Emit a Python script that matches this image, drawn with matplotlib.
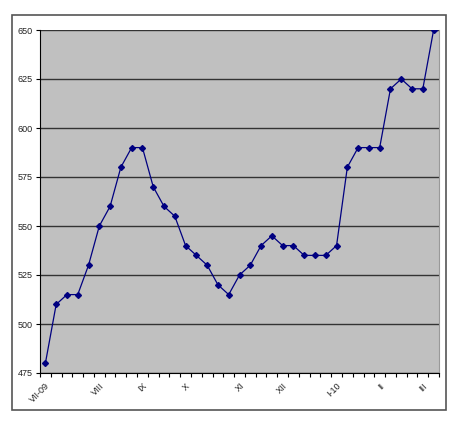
import matplotlib
matplotlib.use("Agg")
import matplotlib.pyplot as plt
from matplotlib.patches import Rectangle

plt.rcParams['font.family'] = ['Liberation Sans', 'DejaVu Sans']

values = [480, 510, 515, 515, 530, 550, 560, 580, 590, 590, 570, 560, 555,
          540, 535, 530, 520, 515, 525, 530, 540, 545, 540, 540, 535, 535,
          535, 540, 580, 590, 590, 590, 620, 625, 620, 620, 650]
month_pos = [0, 5, 9, 13, 18, 22, 27, 31, 35]
month_labels = ['VII-09', 'VIII', 'IX', 'X', 'XI', 'XII', 'I-10', 'II', 'III']
y_ticks = [475, 500, 525, 550, 575, 600, 625, 650]

fig = plt.figure(figsize=(4.57, 4.26), dpi=100)
fig.patch.set_facecolor('white')

# chart border
fig.patches.append(Rectangle((12 / 457, 1 - 410 / 426), 434 / 457, 395 / 426,
                             transform=fig.transFigure, fill=False,
                             edgecolor='#555555', linewidth=1.2))

ax = fig.add_axes([40 / 457, 1 - 373 / 426, 399 / 457, 343 / 426])
ax.set_facecolor('#C0C0C0')

x = list(range(len(values)))
ax.plot(x, values, color='#000080', linewidth=0.9, marker='D',
        markersize=3, markerfacecolor='#000080', markeredgecolor='#000080')

ax.set_xlim(-0.5, len(values) - 0.5)
ax.set_ylim(475, 650)
ax.set_yticks(y_ticks)
ax.set_yticklabels([str(v) for v in y_ticks], fontsize=6.5, color='#222222')
ax.grid(axis='y', color='#333333', linewidth=1.0)
ax.set_axisbelow(True)

# tick marks at category boundaries, labels at category centres
ax.set_xticks([i - 0.5 for i in range(len(values) + 1)])
ax.set_xticklabels([])
ax.set_xticks(month_pos, minor=True)
ax.set_xticklabels(month_labels, minor=True, rotation=45, ha='right',
                   rotation_mode='anchor', fontsize=6.5, color='#222222')
ax.tick_params(axis='x', which='major', length=3, width=0.8, direction='out')
ax.tick_params(axis='x', which='minor', length=0, pad=6)
ax.tick_params(axis='y', length=3, width=0.8, pad=2)

ax.spines['top'].set_visible(False)
ax.spines['right'].set_color('#999999')
ax.spines['left'].set_color('black')
ax.spines['bottom'].set_color('black')

fig.savefig('out.png', dpi=100)
